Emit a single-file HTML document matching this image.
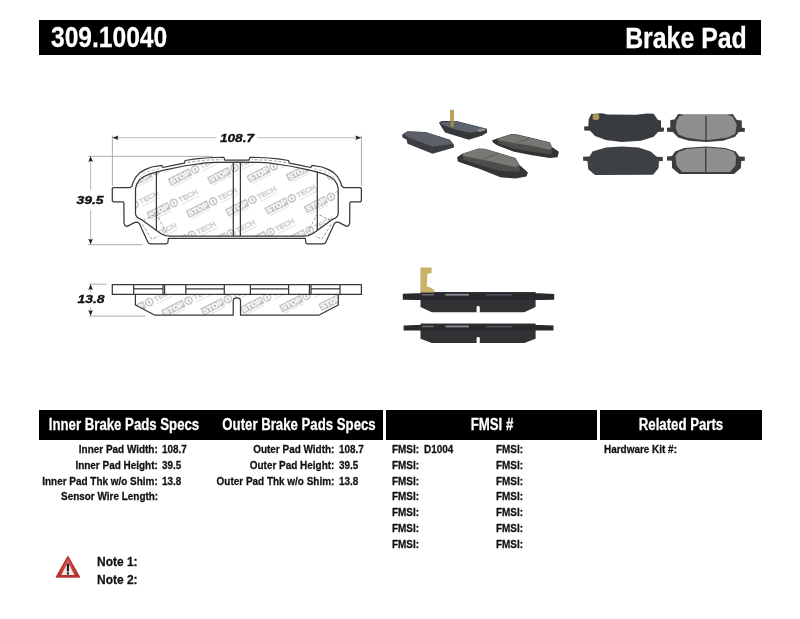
<!DOCTYPE html>
<html><head><meta charset="utf-8"><title>309.10040 Brake Pad</title>
<style>
html,body{margin:0;padding:0;background:#fff;}
body{width:800px;height:619px;position:relative;overflow:hidden;font-family:"Liberation Sans",sans-serif;}
.bar{position:absolute;background:#000;}
.t{position:absolute;white-space:nowrap;line-height:1;font-family:"Liberation Sans",sans-serif;}
#art{position:absolute;left:0;top:0;}
.ln{fill:none;stroke:#383838;stroke-width:1.25;stroke-linejoin:round;}
rect.ln{fill:#fff;}
.ds{fill:none;stroke:#666;stroke-width:0.65;stroke-dasharray:3 1.8;}
.ext{fill:none;stroke:#adadad;stroke-width:1;}
.dim{fill:none;stroke:#b2b2b2;stroke-width:0.9;}
.arr{fill:#222;stroke:none;}
#wrap{position:absolute;left:0;top:0;width:800px;height:619px;background:#fff;filter:blur(0.4px);}
</style></head><body><div id="wrap">
<div class="bar" style="left:39px;top:20.2px;width:722.4px;height:34.5px;"></div>
<div class="bar" style="left:39px;top:410.3px;width:343.6px;height:29.9px;"></div>
<div class="bar" style="left:386.2px;top:410.3px;width:210.8px;height:29.9px;"></div>
<div class="bar" style="left:600px;top:410.3px;width:162.4px;height:29.9px;"></div>
<svg id="art" width="800" height="619" viewBox="0 0 800 619">
<defs>
<filter id="b1" x="-5%" y="-5%" width="110%" height="110%"><feGaussianBlur stdDeviation="0.55"/></filter>
<filter id="b2" x="-5%" y="-5%" width="110%" height="110%"><feGaussianBlur stdDeviation="0.7"/></filter>
<filter id="b0" x="0" y="0" width="100%" height="100%" filterUnits="objectBoundingBox"><feGaussianBlur stdDeviation="0.35"/></filter>
<clipPath id="clipRect"><rect x="130.5" y="150" width="212.7" height="88.5"/></clipPath>
<clipPath id="clipFront"><path d="M236.8,162.1 L214.0,162.3 L205.0,162.8 L184.0,166.0 L163.0,170.3 L150.0,173.9 L143.5,176.8 L139.3,180.0 L136.7,184.2 L135.5,188.5 L135.5,213.5 L136.0,215.6 L137.6,217.6 L142.5,220.2 L157.5,231.3 L161.5,234.0 L165.5,235.6 L169.0,236.0 L236.8,236.0 L304.7,236.0 L308.2,235.6 L312.2,234.0 L316.2,231.3 L331.2,220.2 L336.1,217.6 L337.7,215.6 L338.2,213.5 L338.2,188.5 L337.0,184.2 L334.4,180.0 L330.2,176.8 L323.7,173.9 L310.7,170.3 L289.7,166.0 L268.7,162.8 L259.7,162.3Z"/></clipPath>
<clipPath id="clipSide"><path d="M135.4,294.4 L135.4,305.0 L155.0,315.2 L233.2,315.2 L233.2,300.6 L234.0,298.6 L236.8,297.6 L239.7,298.6 L240.5,300.6 L240.5,315.2 L318.7,315.2 L338.3,305.0 L338.3,294.4Z"/></clipPath>
<g id="lg">
  <rect x="-28.8" y="-3.9" width="23.6" height="7.8" fill="#c4c4c4"/>
  <text x="-27.8" y="2.6" font-family="Liberation Sans, sans-serif" font-weight="bold" font-size="7.2" textLength="21.6" stroke="#fff" stroke-width="0.25" lengthAdjust="spacingAndGlyphs" fill="#fff">STOP</text>
  <circle cx="0" cy="0" r="3.6" fill="#fff" stroke="#c4c4c4" stroke-width="1.5"/>
  <path d="M0,-2.8 L1.3,0 L0,2.8 L-1.3,0Z" fill="#c9c9c9"/>
  <text x="5.8" y="2.5" font-family="Liberation Sans, sans-serif" font-size="6.9" textLength="20.5" lengthAdjust="spacingAndGlyphs" fill="#fff" stroke="#cbcbcb" stroke-width="0.55">TECH</text>
  <rect x="-27" y="5.2" width="21" height="0.9" fill="#dedede"/>
  <rect x="6" y="4.6" width="20" height="0.9" fill="#dedede"/>
</g>
</defs>
<g id="photos">
<g filter="url(#b2)">
<polygon points="402.2,134.4 407.5,131.2 425.6,131.9 450.0,139.8 453.8,144.4 454.0,147.5 432.5,153.8 407.5,143.8 406.5,139.4 402.5,137.5" fill="#3a3c41"/>
<polygon points="403.8,134.0 408.0,131.6 425.5,132.2 449.5,140.0 452.8,144.0 432.5,146.5 408.5,137.5" fill="#5c6068"/>
<rect x="450.0" y="109.8" width="4" height="17" fill="#b9a35c"/>
<polygon points="439.0,122.5 441.9,121.0 457.5,121.2 486.9,128.8 487.2,132.5 482.5,135.6 468.8,139.8 445.0,132.5 441.5,126.9" fill="#35373b"/>
<polygon points="440.2,122.5 457.5,121.6 485.2,128.8 482.5,130.8 470.0,132.8 455.0,129.5 442.2,124.8" fill="#5d636b"/>
<polygon points="476.9,129.4 484.4,128.5 486.0,130.2 479.0,132.0" fill="#8a9098"/>
<rect x="450.5" y="121.2" width="3.4" height="5.5" fill="#9f8c4e"/>
<polygon points="491.9,140.4 496.3,138.8 511.4,133.9 517.6,134.6 549.9,142.2 552.0,147.0 558.9,151.8 557.5,157.3 549.9,158.0 532.0,155.3 514.1,151.8 497.6,145.6 493.5,142.9" fill="#333335"/>
<polygon points="497.6,139.3 519.6,143.6 549.9,150.0 552.0,147.7 551.3,154.6 532.0,151.8 514.1,148.7 498.3,143.6" fill="#4e4d4b"/>
<polygon points="497.9,138.8 511.4,134.2 517.6,134.9 549.6,142.6 552.0,147.7 549.9,150.0 532.0,145.9 499.0,140.5" fill="#787672"/>
<path d="M529.0,138.5 L517.6,142.6" stroke="#55544f" stroke-width="0.8"/>
<polygon points="457.1,157.3 461.9,153.9 478.4,148.4 484.6,148.7 515.5,158.0 519.6,164.9 527.9,172.5 526.5,176.6 515.5,178.6 500.4,177.3 479.8,169.0 463.3,163.5 457.8,161.5" fill="#343436"/>
<polygon points="462.6,154.2 482.5,159.7 515.5,167.2 519.6,165.6 519.6,171.8 500.4,171.1 479.8,164.9 463.5,159.7" fill="#4f4e4c"/>
<polygon points="462.6,153.6 478.4,148.7 484.6,148.9 515.5,158.4 519.6,165.6 515.5,167.2 482.5,159.7 463.3,156.1" fill="#7a7874"/>
<path d="M498.7,153.2 L482.5,159.4" stroke="#55544f" stroke-width="0.8"/>
</g>
<g filter="url(#b2)">
<polygon points="584.1,126.6 588.3,126.2 588.7,119.3 591.3,114.1 602.2,113.2 607.1,114.4 636.1,114.7 647.0,113.5 653.7,113.7 658.0,120.1 661.0,120.5 661.0,127.4 664.0,127.8 663.8,131.4 658.0,131.9 653.7,136.7 641.0,140.7 621.6,141.9 605.9,140.1 595.0,135.9 590.1,130.7 584.3,130.4" fill="#393b40"/>
<polygon points="583.1,156.8 589.5,156.5 592.5,151.6 605.9,147.4 621.6,146.4 638.6,147.6 650.7,151.6 656.7,156.8 662.8,157.1 662.8,161.0 658.9,161.3 658.6,168.0 653.1,174.7 595.0,175.0 588.3,169.2 587.4,161.0 583.1,160.7" fill="#3d4045"/>
<polygon points="667.0,127.8 670.3,127.4 670.3,120.1 674.5,119.5 678.2,114.1 684.2,114.4 727.8,114.4 732.7,114.1 736.9,120.1 741.8,120.5 741.8,127.8 744.8,128.0 744.8,131.7 738.7,131.9 735.1,136.7 723.0,140.7 706.0,141.9 689.1,140.7 678.2,137.5 672.7,131.9 667.0,131.7" fill="#3a3c40"/>
<polygon points="667.0,156.5 672.1,156.1 675.1,151.6 684.2,148.0 706.0,146.4 725.4,148.0 735.7,151.6 739.3,156.5 744.8,156.8 744.8,160.7 741.2,161.0 740.9,168.0 733.9,174.0 679.4,174.0 672.1,168.0 671.9,160.7 667.0,160.5" fill="#3a3c40"/>
<polygon points="679.4,115.9 684.2,115.1 727.8,115.1 732.7,116.6 736.7,124.4 735.3,133.8 727.8,137.5 708.5,140.1 703.6,140.1 686.7,137.7 678.4,134.4 675.7,128.0 676.6,120.7" fill="#8e8e8c"/>
<polygon points="675.4,155.9 678.4,151.9 686.7,148.9 706.0,147.6 725.4,148.9 733.7,151.9 736.1,156.5 735.5,165.6 730.0,172.0 682.0,172.0 676.6,165.6" fill="#908f8d"/>
<rect x="705.3" y="116.1" width="1.3" height="24.6" fill="#3a3a3a"/>
<rect x="705.1" y="147.6" width="1.3" height="24.2" fill="#3a3a3a"/>
<ellipse cx="595.9" cy="116.9" rx="3.4" ry="3.2" fill="#a8965a"/>
</g>
<g filter="url(#b2)">
<polygon points="420.5,291.9 535.6,291.9 535.6,307.0 524.3,312.2 431.8,312.2 420.5,307.0" fill="#303236"/>
<polygon points="402.8,293.7 416.0,293.3 540.0,293.3 554.2,293.9 554.2,299.8 540.0,300.0 416.0,300.0 402.8,299.8" fill="#2a2b2f"/>
<rect x="445.5" y="293.9" width="23.5" height="1.7" fill="#8a8f96"/>
<rect x="486" y="294.3" width="26" height="1.2" fill="#55595f"/>
<rect x="422" y="294.1" width="12" height="1.3" fill="#6d7279"/>
<rect x="476.6" y="306.0" width="3.2" height="7.2" rx="1.4" fill="#fff"/>
<polygon points="420.5,323.5 535.6,323.5 535.6,338.8 524.3,343.1 431.8,343.1 420.5,338.8" fill="#303236"/>
<polygon points="403.6,325.4 416.0,325.0 540.0,325.0 553.5,325.6 553.5,330.4 540.0,330.6 416.0,330.6 403.6,330.4" fill="#2a2b2f"/>
<rect x="445.5" y="325.6" width="23.5" height="1.7" fill="#8a8f96"/>
<rect x="486" y="326.0" width="26" height="1.2" fill="#55595f"/>
<rect x="422" y="325.8" width="12" height="1.3" fill="#6d7279"/>
<rect x="476.6" y="336.9" width="3.2" height="7.2" rx="1.4" fill="#fff"/>
<polygon points="420.4,267.4 431.6,267.4 431.6,273.0 427.4,273.9 426.7,286.5 430.1,287.2 434.3,289.9 434.3,292.4 420.4,292.4" fill="#c7b268"/>
</g>
</g>
<g id="dims">
<path d="M112.4,135.6 L112.4,186" class="ext"/>
<path d="M361.4,135.6 L361.4,186" class="ext"/>
<path d="M116,137.7 L216.4,137.7 M257.5,137.7 L357,137.7" class="dim"/>
<path d="M112.3,137.7 L118.6,135.5 L117.4,137.7 L118.6,139.9Z" class="arr"/>
<path d="M361.5,137.7 L355.2,135.5 L356.4,137.7 L355.2,139.9Z" class="arr"/>
<path d="M88,156.3 L213,156.3" class="ext"/>
<path d="M88,244.7 L142.5,244.7" class="ext"/>
<path d="M90.6,160 L90.6,190 M90.6,210 L90.6,240" class="dim"/>
<path d="M90.6,156.1 L88.3,162.0 L90.6,161.0 L92.9,162.0Z" class="arr"/>
<path d="M90.6,244.6 L88.3,238.7 L90.6,239.7 L92.9,238.7Z" class="arr"/>
<path d="M89,284.2 L107,284.2" class="ext"/>
<path d="M89,316.1 L145.5,316.1" class="ext"/>
<path d="M90.6,287 L90.6,292.5 M90.6,307 L90.6,313" class="dim"/>
<path d="M90.6,284.1 L88.3,290.0 L90.6,289.0 L92.9,290.0Z" class="arr"/>
<path d="M90.6,316.0 L88.3,310.1 L90.6,311.1 L92.9,310.1Z" class="arr"/>
</g>
<g id="front">
<path d="M236.8,160.0 L224.7,160.0 L223.9,157.4 L214.0,157.5 L205.0,158.0 L195.5,158.9 L185.2,160.5 L184.4,163.2 L172.9,165.3 L163.0,167.5 L161.6,165.3 L151.8,167.0 L145.0,169.6 L139.7,172.9 L135.8,177.2 L133.3,181.8 L131.8,186.2 L130.2,187.5 L113.3,187.5 L112.3,188.5 L112.3,200.8 L113.3,201.8 L123.2,201.9 L123.9,203.0 L124.0,223.3 L125.0,225.6 L127.2,226.4 L134.9,222.4 L137.5,222.2 L139.3,223.4 L147.6,241.6 L148.6,243.2 L150.4,243.8 L166.6,243.8 L167.8,243.0 L168.4,238.4 L236.8,238.3 L305.3,238.4 L305.9,243.0 L307.1,243.8 L323.3,243.8 L325.1,243.2 L326.1,241.6 L334.4,223.4 L336.2,222.2 L338.8,222.4 L346.5,226.4 L348.7,225.6 L349.7,223.3 L349.8,203.0 L350.5,201.9 L360.4,201.8 L361.4,200.8 L361.4,188.5 L360.4,187.5 L343.5,187.5 L341.9,186.2 L340.4,181.8 L337.9,177.2 L334.0,172.9 L328.7,169.6 L321.9,167.0 L312.1,165.3 L310.7,167.5 L300.8,165.3 L289.3,163.2 L288.5,160.5 L278.2,158.9 L268.7,158.0 L259.7,157.5 L249.8,157.4 L249.0,160.0Z" fill="#fff" stroke="none"/>
<g clip-path="url(#clipRect)"><g clip-path="url(#clipFront)"><g filter="url(#b0)"><use href="#lg" transform="translate(109.9 303.6) rotate(-27)"/><use href="#lg" transform="translate(95.2 206.1) rotate(-27)"/><use href="#lg" transform="translate(113.2 238.1) rotate(-27)"/><use href="#lg" transform="translate(149.2 302.1) rotate(-27)"/><use href="#lg" transform="translate(167.2 334.1) rotate(-27)"/><use href="#lg" transform="translate(98.5 140.6) rotate(-27)"/><use href="#lg" transform="translate(116.5 172.6) rotate(-27)"/><use href="#lg" transform="translate(134.5 204.6) rotate(-27)"/><use href="#lg" transform="translate(152.5 236.6) rotate(-27)"/><use href="#lg" transform="translate(188.5 300.6) rotate(-27)"/><use href="#lg" transform="translate(206.5 332.6) rotate(-27)"/><use href="#lg" transform="translate(155.8 171.0) rotate(-27)"/><use href="#lg" transform="translate(173.8 203.0) rotate(-27)"/><use href="#lg" transform="translate(191.8 235.0) rotate(-27)"/><use href="#lg" transform="translate(227.8 299.0) rotate(-27)"/><use href="#lg" transform="translate(245.8 331.0) rotate(-27)"/><use href="#lg" transform="translate(195.1 169.4) rotate(-27)"/><use href="#lg" transform="translate(213.1 201.4) rotate(-27)"/><use href="#lg" transform="translate(231.1 233.4) rotate(-27)"/><use href="#lg" transform="translate(267.1 297.4) rotate(-27)"/><use href="#lg" transform="translate(285.1 329.4) rotate(-27)"/><use href="#lg" transform="translate(234.4 167.9) rotate(-27)"/><use href="#lg" transform="translate(252.4 199.9) rotate(-27)"/><use href="#lg" transform="translate(270.4 231.9) rotate(-27)"/><use href="#lg" transform="translate(306.4 295.9) rotate(-27)"/><use href="#lg" transform="translate(324.4 327.9) rotate(-27)"/><use href="#lg" transform="translate(273.7 166.3) rotate(-27)"/><use href="#lg" transform="translate(291.7 198.3) rotate(-27)"/><use href="#lg" transform="translate(309.7 230.3) rotate(-27)"/><use href="#lg" transform="translate(345.7 294.4) rotate(-27)"/><use href="#lg" transform="translate(363.7 326.4) rotate(-27)"/><use href="#lg" transform="translate(313.0 164.8) rotate(-27)"/><use href="#lg" transform="translate(331.0 196.8) rotate(-27)"/><use href="#lg" transform="translate(349.0 228.8) rotate(-27)"/><use href="#lg" transform="translate(385.0 292.8) rotate(-27)"/><use href="#lg" transform="translate(352.3 163.2) rotate(-27)"/><use href="#lg" transform="translate(370.3 195.2) rotate(-27)"/><use href="#lg" transform="translate(388.3 227.2) rotate(-27)"/><use href="#lg" transform="translate(391.6 161.7) rotate(-27)"/></g></g></g>
<path d="M236.8,160.0 L224.7,160.0 L223.9,157.4 L214.0,157.5 L205.0,158.0 L195.5,158.9 L185.2,160.5 L184.4,163.2 L172.9,165.3 L163.0,167.5 L161.6,165.3 L151.8,167.0 L145.0,169.6 L139.7,172.9 L135.8,177.2 L133.3,181.8 L131.8,186.2 L130.2,187.5 L113.3,187.5 L112.3,188.5 L112.3,200.8 L113.3,201.8 L123.2,201.9 L123.9,203.0 L124.0,223.3 L125.0,225.6 L127.2,226.4 L134.9,222.4 L137.5,222.2 L139.3,223.4 L147.6,241.6 L148.6,243.2 L150.4,243.8 L166.6,243.8 L167.8,243.0 L168.4,238.4 L236.8,238.3 L305.3,238.4 L305.9,243.0 L307.1,243.8 L323.3,243.8 L325.1,243.2 L326.1,241.6 L334.4,223.4 L336.2,222.2 L338.8,222.4 L346.5,226.4 L348.7,225.6 L349.7,223.3 L349.8,203.0 L350.5,201.9 L360.4,201.8 L361.4,200.8 L361.4,188.5 L360.4,187.5 L343.5,187.5 L341.9,186.2 L340.4,181.8 L337.9,177.2 L334.0,172.9 L328.7,169.6 L321.9,167.0 L312.1,165.3 L310.7,167.5 L300.8,165.3 L289.3,163.2 L288.5,160.5 L278.2,158.9 L268.7,158.0 L259.7,157.5 L249.8,157.4 L249.0,160.0Z" class="ln"/>
<path d="M236.8,162.1 L214.0,162.3 L205.0,162.8 L184.0,166.0 L163.0,170.3 L150.0,173.9 L143.5,176.8 L139.3,180.0 L136.7,184.2 L135.5,188.5 L135.5,213.5 L136.0,215.6 L137.6,217.6 L142.5,220.2 L157.5,231.3 L161.5,234.0 L165.5,235.6 L169.0,236.0 L236.8,236.0 L304.7,236.0 L308.2,235.6 L312.2,234.0 L316.2,231.3 L331.2,220.2 L336.1,217.6 L337.7,215.6 L338.2,213.5 L338.2,188.5 L337.0,184.2 L334.4,180.0 L330.2,176.8 L323.7,173.9 L310.7,170.3 L289.7,166.0 L268.7,162.8 L259.7,162.3Z" class="ln"/>
<path d="M156.4,171.2 L156.4,230.8" class="ln"/>
<path d="M317.3,171.2 L317.3,230.8" class="ln"/>
<path d="M233.3,162.3 L233.3,236" class="ln"/>
<path d="M240.4,162.3 L240.4,236" class="ln"/>
<path d="M143.0,220.5 L156.4,213.8 L165.8,231.8" class="ds"/>
<path d="M330.7,220.5 L317.3,213.8 L307.9,231.8" class="ds"/>
<path d="M142.6,224.5 L151.8,239.2 L158.6,236.2" class="ds"/>
<path d="M331.1,224.5 L321.9,239.2 L315.1,236.2" class="ds"/>
<path d="M187.5,162.6 L205.0,160.2 L222.0,159.6" class="ds"/>
<path d="M286.2,162.6 L268.7,160.2 L251.7,159.6" class="ds"/>
<path d="M139.5,177.5 L144.0,173.4 L150.0,170.9 L161.0,168.6" class="ds" style="stroke:#9a9a9a"/>
<path d="M334.2,177.5 L329.7,173.4 L323.7,170.9 L312.7,168.6" class="ds" style="stroke:#9a9a9a"/>
</g>
<g id="side">
<path d="M135.4,294.4 L135.4,305.0 L155.0,315.2 L233.2,315.2 L233.2,300.6 L234.0,298.6 L236.8,297.6 L239.7,298.6 L240.5,300.6 L240.5,315.2 L318.7,315.2 L338.3,305.0 L338.3,294.4Z" fill="#fff" stroke="none"/>
<g clip-path="url(#clipSide)"><g filter="url(#b0)"><use href="#lg" transform="translate(109.9 303.6) rotate(-27)"/><use href="#lg" transform="translate(95.2 206.1) rotate(-27)"/><use href="#lg" transform="translate(113.2 238.1) rotate(-27)"/><use href="#lg" transform="translate(149.2 302.1) rotate(-27)"/><use href="#lg" transform="translate(167.2 334.1) rotate(-27)"/><use href="#lg" transform="translate(98.5 140.6) rotate(-27)"/><use href="#lg" transform="translate(116.5 172.6) rotate(-27)"/><use href="#lg" transform="translate(134.5 204.6) rotate(-27)"/><use href="#lg" transform="translate(152.5 236.6) rotate(-27)"/><use href="#lg" transform="translate(188.5 300.6) rotate(-27)"/><use href="#lg" transform="translate(206.5 332.6) rotate(-27)"/><use href="#lg" transform="translate(155.8 171.0) rotate(-27)"/><use href="#lg" transform="translate(173.8 203.0) rotate(-27)"/><use href="#lg" transform="translate(191.8 235.0) rotate(-27)"/><use href="#lg" transform="translate(227.8 299.0) rotate(-27)"/><use href="#lg" transform="translate(245.8 331.0) rotate(-27)"/><use href="#lg" transform="translate(195.1 169.4) rotate(-27)"/><use href="#lg" transform="translate(213.1 201.4) rotate(-27)"/><use href="#lg" transform="translate(231.1 233.4) rotate(-27)"/><use href="#lg" transform="translate(267.1 297.4) rotate(-27)"/><use href="#lg" transform="translate(285.1 329.4) rotate(-27)"/><use href="#lg" transform="translate(234.4 167.9) rotate(-27)"/><use href="#lg" transform="translate(252.4 199.9) rotate(-27)"/><use href="#lg" transform="translate(270.4 231.9) rotate(-27)"/><use href="#lg" transform="translate(306.4 295.9) rotate(-27)"/><use href="#lg" transform="translate(324.4 327.9) rotate(-27)"/><use href="#lg" transform="translate(273.7 166.3) rotate(-27)"/><use href="#lg" transform="translate(291.7 198.3) rotate(-27)"/><use href="#lg" transform="translate(309.7 230.3) rotate(-27)"/><use href="#lg" transform="translate(345.7 294.4) rotate(-27)"/><use href="#lg" transform="translate(363.7 326.4) rotate(-27)"/><use href="#lg" transform="translate(313.0 164.8) rotate(-27)"/><use href="#lg" transform="translate(331.0 196.8) rotate(-27)"/><use href="#lg" transform="translate(349.0 228.8) rotate(-27)"/><use href="#lg" transform="translate(385.0 292.8) rotate(-27)"/><use href="#lg" transform="translate(352.3 163.2) rotate(-27)"/><use href="#lg" transform="translate(370.3 195.2) rotate(-27)"/><use href="#lg" transform="translate(388.3 227.2) rotate(-27)"/><use href="#lg" transform="translate(391.6 161.7) rotate(-27)"/></g></g>
<path d="M135.4,294.4 L135.4,305.0 L155.0,315.2 L233.2,315.2 L233.2,300.6 L234.0,298.6 L236.8,297.6 L239.7,298.6 L240.5,300.6 L240.5,315.2 L318.7,315.2 L338.3,305.0 L338.3,294.4" class="ln"/>
<rect x="112.3" y="284.5" width="249.1" height="9.9" fill="#fff" class="ln"/>
<path d="M133.7,284.5 L133.7,294.4" class="ln"/>
<path d="M163.0,284.5 L163.0,294.4" class="ln"/>
<path d="M164.6,284.5 L164.6,294.4" class="ln"/>
<path d="M185.8,284.5 L185.8,294.4" class="ln"/>
<path d="M224.3,284.5 L224.3,294.4" class="ln"/>
<path d="M250.4,284.5 L250.4,294.4" class="ln"/>
<path d="M288.6,284.5 L288.6,294.4" class="ln"/>
<path d="M309.4,284.5 L309.4,294.4" class="ln"/>
<path d="M311.0,284.5 L311.0,294.4" class="ln"/>
<path d="M340.0,284.5 L340.0,294.4" class="ln"/>
<path d="M133.7,288.8 L163.0,288.8" class="ln"/>
<path d="M185.8,288.8 L224.3,288.8" class="ln"/>
<path d="M250.4,288.8 L288.6,288.8" class="ln"/>
<path d="M311.0,288.8 L340.0,288.8" class="ln"/>
</g>
</svg>
<svg id="warn" width="30" height="28" viewBox="0 0 30 28" style="position:absolute;left:53px;top:553px;">
<defs><linearGradient id="wg" x1="0" y1="0" x2="0" y2="1"><stop offset="0" stop-color="#d66"/><stop offset="1" stop-color="#b22a2a"/></linearGradient></defs>
<path d="M14.9,3.9 L26.2,23.9 L3.6,23.9Z" fill="url(#wg)" stroke="#b93535" stroke-width="1.7" stroke-linejoin="round"/>
<path d="M14.9,9.6 L21.6,22.0 L8.2,22.0Z" fill="#f1e6e6"/>
<rect x="13.9" y="10.6" width="2" height="7.8" fill="#111"/>
<rect x="13.9" y="19.4" width="2" height="2.1" fill="#111"/>
</svg>
<span class="t" id="h1" style="left:51px;transform-origin:0 0;top:22.4px;font-size:29.6px;color:#fff;font-weight:bold;transform:scaleX(0.83);-webkit-text-stroke:0.28px #fff;">309.10040</span>
<span class="t" id="h2" style="right:53.5px;transform-origin:100% 0;top:22.8px;font-size:29.6px;color:#fff;font-weight:bold;transform:scaleX(0.84);-webkit-text-stroke:0.28px #fff;">Brake Pad</span>
<span class="t" id="d1" style="left:236.8px;transform-origin:0 0;top:131.7px;font-size:11.7px;color:#111;font-weight:bold;transform:scaleX(1.17) translateX(-50%);font-style:italic;-webkit-text-stroke:0.35px #111;">108.7</span>
<span class="t" id="d2" style="left:90.4px;transform-origin:0 0;top:193.9px;font-size:11.7px;color:#111;font-weight:bold;transform:scaleX(1.19) translateX(-50%);font-style:italic;-webkit-text-stroke:0.35px #111;">39.5</span>
<span class="t" id="d3" style="left:90.6px;transform-origin:0 0;top:293.3px;font-size:11.7px;color:#111;font-weight:bold;transform:scaleX(1.19) translateX(-50%);font-style:italic;-webkit-text-stroke:0.35px #111;">13.8</span>
<span class="t" id="s1" style="left:124px;transform-origin:0 0;top:417.2px;font-size:16px;color:#fff;font-weight:bold;transform:scaleX(0.825) translateX(-50%);-webkit-text-stroke:0.28px #fff;">Inner Brake Pads Specs</span>
<span class="t" id="s2" style="left:298.7px;transform-origin:0 0;top:417.2px;font-size:16px;color:#fff;font-weight:bold;transform:scaleX(0.825) translateX(-50%);-webkit-text-stroke:0.28px #fff;">Outer Brake Pads Specs</span>
<span class="t" id="s3" style="left:492px;transform-origin:0 0;top:417.2px;font-size:16px;color:#fff;font-weight:bold;transform:scaleX(0.825) translateX(-50%);-webkit-text-stroke:0.28px #fff;">FMSI #</span>
<span class="t" id="s4" style="left:681.2px;transform-origin:0 0;top:417.2px;font-size:16px;color:#fff;font-weight:bold;transform:scaleX(0.825) translateX(-50%);-webkit-text-stroke:0.28px #fff;">Related Parts</span>
<span class="t" id="il0" style="right:642.2px;transform-origin:100% 0;top:442.8px;font-size:11.7px;color:#111;font-weight:bold;transform:scaleX(0.851);-webkit-text-stroke:0.28px #111;">Inner Pad Width:</span>
<span class="t" id="iv0" style="left:162.1px;transform-origin:0 0;top:442.8px;font-size:11.7px;color:#111;font-weight:bold;transform:scaleX(0.851);-webkit-text-stroke:0.28px #111;">108.7</span>
<span class="t" id="il1" style="right:642.2px;transform-origin:100% 0;top:458.65000000000003px;font-size:11.7px;color:#111;font-weight:bold;transform:scaleX(0.851);-webkit-text-stroke:0.28px #111;">Inner Pad Height:</span>
<span class="t" id="iv1" style="left:162.1px;transform-origin:0 0;top:458.65000000000003px;font-size:11.7px;color:#111;font-weight:bold;transform:scaleX(0.851);-webkit-text-stroke:0.28px #111;">39.5</span>
<span class="t" id="il2" style="right:642.2px;transform-origin:100% 0;top:474.5px;font-size:11.7px;color:#111;font-weight:bold;transform:scaleX(0.851);-webkit-text-stroke:0.28px #111;">Inner Pad Thk w/o Shim:</span>
<span class="t" id="iv2" style="left:162.1px;transform-origin:0 0;top:474.5px;font-size:11.7px;color:#111;font-weight:bold;transform:scaleX(0.851);-webkit-text-stroke:0.28px #111;">13.8</span>
<span class="t" id="il3" style="right:642.2px;transform-origin:100% 0;top:490.35px;font-size:11.7px;color:#111;font-weight:bold;transform:scaleX(0.851);-webkit-text-stroke:0.28px #111;">Sensor Wire Length:</span>
<span class="t" id="ol0" style="right:465.6px;transform-origin:100% 0;top:442.8px;font-size:11.7px;color:#111;font-weight:bold;transform:scaleX(0.851);-webkit-text-stroke:0.28px #111;">Outer Pad Width:</span>
<span class="t" id="ov0" style="left:339.1px;transform-origin:0 0;top:442.8px;font-size:11.7px;color:#111;font-weight:bold;transform:scaleX(0.851);-webkit-text-stroke:0.28px #111;">108.7</span>
<span class="t" id="ol1" style="right:465.6px;transform-origin:100% 0;top:458.65000000000003px;font-size:11.7px;color:#111;font-weight:bold;transform:scaleX(0.851);-webkit-text-stroke:0.28px #111;">Outer Pad Height:</span>
<span class="t" id="ov1" style="left:339.1px;transform-origin:0 0;top:458.65000000000003px;font-size:11.7px;color:#111;font-weight:bold;transform:scaleX(0.851);-webkit-text-stroke:0.28px #111;">39.5</span>
<span class="t" id="ol2" style="right:465.6px;transform-origin:100% 0;top:474.5px;font-size:11.7px;color:#111;font-weight:bold;transform:scaleX(0.851);-webkit-text-stroke:0.28px #111;">Outer Pad Thk w/o Shim:</span>
<span class="t" id="ov2" style="left:339.1px;transform-origin:0 0;top:474.5px;font-size:11.7px;color:#111;font-weight:bold;transform:scaleX(0.851);-webkit-text-stroke:0.28px #111;">13.8</span>
<span class="t" id="fa0" style="left:392px;transform-origin:0 0;top:442.8px;font-size:11.7px;color:#111;font-weight:bold;transform:scaleX(0.851);-webkit-text-stroke:0.28px #111;">FMSI:</span>
<span class="t" id="fb0" style="left:496.0px;transform-origin:0 0;top:442.8px;font-size:11.7px;color:#111;font-weight:bold;transform:scaleX(0.851);-webkit-text-stroke:0.28px #111;">FMSI:</span>
<span class="t" id="fa1" style="left:392px;transform-origin:0 0;top:458.65000000000003px;font-size:11.7px;color:#111;font-weight:bold;transform:scaleX(0.851);-webkit-text-stroke:0.28px #111;">FMSI:</span>
<span class="t" id="fb1" style="left:496.0px;transform-origin:0 0;top:458.65000000000003px;font-size:11.7px;color:#111;font-weight:bold;transform:scaleX(0.851);-webkit-text-stroke:0.28px #111;">FMSI:</span>
<span class="t" id="fa2" style="left:392px;transform-origin:0 0;top:474.5px;font-size:11.7px;color:#111;font-weight:bold;transform:scaleX(0.851);-webkit-text-stroke:0.28px #111;">FMSI:</span>
<span class="t" id="fb2" style="left:496.0px;transform-origin:0 0;top:474.5px;font-size:11.7px;color:#111;font-weight:bold;transform:scaleX(0.851);-webkit-text-stroke:0.28px #111;">FMSI:</span>
<span class="t" id="fa3" style="left:392px;transform-origin:0 0;top:490.35px;font-size:11.7px;color:#111;font-weight:bold;transform:scaleX(0.851);-webkit-text-stroke:0.28px #111;">FMSI:</span>
<span class="t" id="fb3" style="left:496.0px;transform-origin:0 0;top:490.35px;font-size:11.7px;color:#111;font-weight:bold;transform:scaleX(0.851);-webkit-text-stroke:0.28px #111;">FMSI:</span>
<span class="t" id="fa4" style="left:392px;transform-origin:0 0;top:506.2px;font-size:11.7px;color:#111;font-weight:bold;transform:scaleX(0.851);-webkit-text-stroke:0.28px #111;">FMSI:</span>
<span class="t" id="fb4" style="left:496.0px;transform-origin:0 0;top:506.2px;font-size:11.7px;color:#111;font-weight:bold;transform:scaleX(0.851);-webkit-text-stroke:0.28px #111;">FMSI:</span>
<span class="t" id="fa5" style="left:392px;transform-origin:0 0;top:522.05px;font-size:11.7px;color:#111;font-weight:bold;transform:scaleX(0.851);-webkit-text-stroke:0.28px #111;">FMSI:</span>
<span class="t" id="fb5" style="left:496.0px;transform-origin:0 0;top:522.05px;font-size:11.7px;color:#111;font-weight:bold;transform:scaleX(0.851);-webkit-text-stroke:0.28px #111;">FMSI:</span>
<span class="t" id="fa6" style="left:392px;transform-origin:0 0;top:537.9px;font-size:11.7px;color:#111;font-weight:bold;transform:scaleX(0.851);-webkit-text-stroke:0.28px #111;">FMSI:</span>
<span class="t" id="fb6" style="left:496.0px;transform-origin:0 0;top:537.9px;font-size:11.7px;color:#111;font-weight:bold;transform:scaleX(0.851);-webkit-text-stroke:0.28px #111;">FMSI:</span>
<span class="t" id="fv0" style="left:424.0px;transform-origin:0 0;top:442.8px;font-size:11.7px;color:#111;font-weight:bold;transform:scaleX(0.851);-webkit-text-stroke:0.28px #111;">D1004</span>
<span class="t" id="hk" style="left:604.2px;transform-origin:0 0;top:442.8px;font-size:11.7px;color:#111;font-weight:bold;transform:scaleX(0.851);-webkit-text-stroke:0.28px #111;">Hardware Kit #:</span>
<span class="t" id="n1" style="left:96.9px;transform-origin:0 0;top:554.6px;font-size:13.7px;color:#111;font-weight:bold;transform:scaleX(0.875);-webkit-text-stroke:0.28px #111;">Note 1:</span>
<span class="t" id="n2" style="left:96.9px;transform-origin:0 0;top:573.3px;font-size:13.7px;color:#111;font-weight:bold;transform:scaleX(0.875);-webkit-text-stroke:0.28px #111;">Note 2:</span>
</div></body></html>
